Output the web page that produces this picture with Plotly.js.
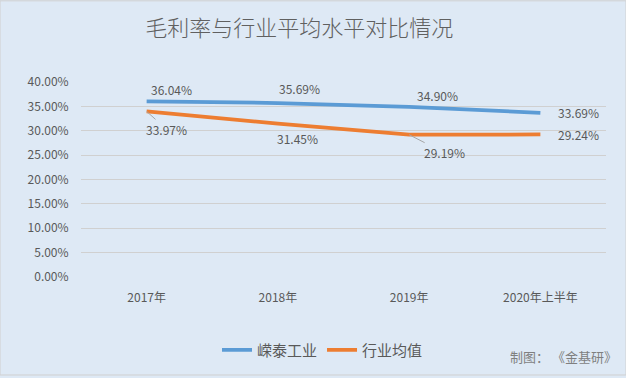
<!DOCTYPE html>
<html><head><meta charset="utf-8">
<script src="https://cdn.plot.ly/plotly-3.0.1.min.js"></script>
<style>html,body{margin:0;padding:0;}#c{width:626px;height:378px;}</style>
</head><body><div id="c"></div>
<script>
const categories = ['2017年', '2018年', '2019年', '2020年上半年'];
const company = [0.3604, 0.3569, 0.3490, 0.3369];
const industry = [0.3397, 0.3145, 0.2919, 0.2924];
const seriesNames = ['嵘泰工业', '行业均值'];
const yTicks = [0, 0.05, 0.10, 0.15, 0.20, 0.25, 0.30, 0.35, 0.40];

const FONT = '"Noto Sans CJK SC", "Noto Sans", sans-serif';
const GREY = '#595959';

// label offsets (px) per point
const compOff = [[25,-12],[22,-15],[28,-11],[38,0]];
const indOff = [[20,18],[20,15],[35,18],[38,0]];
const indArrow = [true,false,true,false];

const annotations = [];
company.forEach((v,i)=>{
  annotations.push({x:categories[i], y:v, xref:'x', yref:'y', text:(v*100).toFixed(2)+'%',
    showarrow:false, xshift:compOff[i][0], yshift:-compOff[i][1],
    font:{family:FONT,size:12,color:GREY}});
});
industry.forEach((v,i)=>{
  if (indArrow[i]) {
    annotations.push({x:categories[i], y:v, xref:'x', yref:'y', text:(v*100).toFixed(2)+'%',
      showarrow:true, arrowhead:0, arrowwidth:1, arrowcolor:'#a6a6a6', standoff:0,
      ax:indOff[i][0], ay:indOff[i][1],
      font:{family:FONT,size:12,color:GREY}});
  } else {
    annotations.push({x:categories[i], y:v, xref:'x', yref:'y', text:(v*100).toFixed(2)+'%',
      showarrow:false, xshift:indOff[i][0], yshift:-indOff[i][1],
      font:{family:FONT,size:12,color:GREY}});
  }
});
annotations.push({xref:'paper', yref:'paper', x:1.025, y:-0.41, xanchor:'right', yanchor:'middle',
  text:'制图： 《金基研》', showarrow:false, font:{family:FONT,size:13,color:'#7f7f7f'}});

const traces = [
  {x:categories, y:company, name:seriesNames[0], type:'scatter', mode:'lines',
   line:{color:'#5b9bd5', width:3.75}},
  {x:categories, y:industry, name:seriesNames[1], type:'scatter', mode:'lines',
   line:{color:'#ed7d31', width:3.75}}
];

const layout = {
  width:626, height:378,
  paper_bgcolor:'#dee9f5', plot_bgcolor:'#dee9f5',
  margin:{l:81, r:20, t:82, b:99},
  title:{text:'毛利率与行业平均水平对比情况', x:0.478, xanchor:'center', y:0.925, yanchor:'middle',
    font:{family:FONT, size:22, color:'#606060', weight:300}},
  xaxis:{type:'category', range:[-0.5,3.5], showgrid:false, zeroline:false, showline:false,
    ticks:'outside', ticklen:10, tickcolor:'rgba(0,0,0,0)',
    tickfont:{family:FONT,size:12,color:GREY}, fixedrange:true},
  yaxis:{range:[0,0.4], tickvals:yTicks, tickformat:'.2%', showgrid:true, gridcolor:'#d0d0d0', gridwidth:1,
    zeroline:false, showline:false, ticks:'outside', ticklen:9, tickcolor:'rgba(0,0,0,0)',
    tickfont:{family:FONT,size:12,color:GREY}, fixedrange:true},
  showlegend:true,
  legend:{orientation:'h', x:0.46, xanchor:'center', y:-0.375, yanchor:'middle',
    font:{family:FONT,size:15,color:GREY}, bgcolor:'rgba(0,0,0,0)', itemwidth:30},
  annotations:annotations,
  shapes:[{type:'rect', xref:'paper', yref:'paper', x0:-81/525, x1:1+20/525, y0:-99/197, y1:1+82/197,
    line:{color:'#d0d0d0', width:1}, fillcolor:'rgba(0,0,0,0)'}]
};
Plotly.newPlot('c', traces, layout, {displayModeBar:false, staticPlot:true});
</script></body></html>
